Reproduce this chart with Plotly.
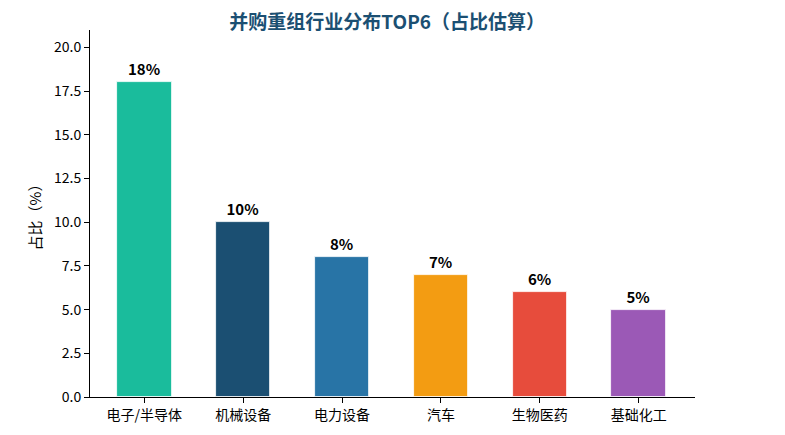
import plotly.graph_objects as go

categories = ["电子/半导体", "机械设备", "电力设备", "汽车", "生物医药", "基础化工"]
values = [18, 10, 8, 7, 6, 5]
labels = ["18%", "10%", "8%", "7%", "6%", "5%"]
colors = ["#1abc9c", "#1b4f72", "#2874a6", "#f39c12", "#e74c3c", "#9b59b6"]

font_family = "Noto Sans CJK SC, Noto Sans, sans-serif"

fig = go.Figure()
fig.add_trace(go.Bar(
    x=list(range(len(categories))),
    y=values,
    width=0.55,
    marker=dict(color=colors, line=dict(color="white", width=0.8)),
    text=labels,
    textposition="outside",
    textfont=dict(family=font_family, size=15, color="black", weight="bold"),
    cliponaxis=False,
    hoverinfo="skip",
))

fig.update_layout(
    width=785, height=435,
    margin=dict(l=82, r=98, t=22, b=46, autoexpand=False),
    paper_bgcolor="white", plot_bgcolor="white",
    showlegend=False,
    bargap=0,
    title=dict(text="并购重组行业分布TOP6（占比估算）", x=0.483, xanchor="center",
               y=0.966, yanchor="middle",
               font=dict(family=font_family, size=19, color="#1b4f72", weight="bold")),
    font=dict(family=font_family, size=14, color="black"),
)
fig.update_xaxes(
    range=[-0.55, 5.57],
    tickmode="array", tickvals=list(range(len(categories))), ticktext=categories,
    showline=True, linecolor="black", linewidth=1,
    ticks="outside", ticklen=5, tickcolor="black",
    showgrid=False, zeroline=False,
    tickfont=dict(family=font_family, size=14, color="black"),
)
fig.update_yaxes(
    range=[0, 21],
    tickmode="array", tickvals=[0, 2.5, 5, 7.5, 10, 12.5, 15, 17.5, 20],
    ticktext=["0.0", "2.5", "5.0", "7.5", "10.0", "12.5", "15.0", "17.5", "20.0"],
    showline=True, linecolor="black", linewidth=1,
    ticks="outside", ticklen=5, tickcolor="black",
    showgrid=False, zeroline=False,
    title=dict(text="占比（%）", font=dict(family=font_family, size=15, color="black"), standoff=8),
    tickfont=dict(family=font_family, size=14, color="black"),
)

fig.write_html("out.html")
